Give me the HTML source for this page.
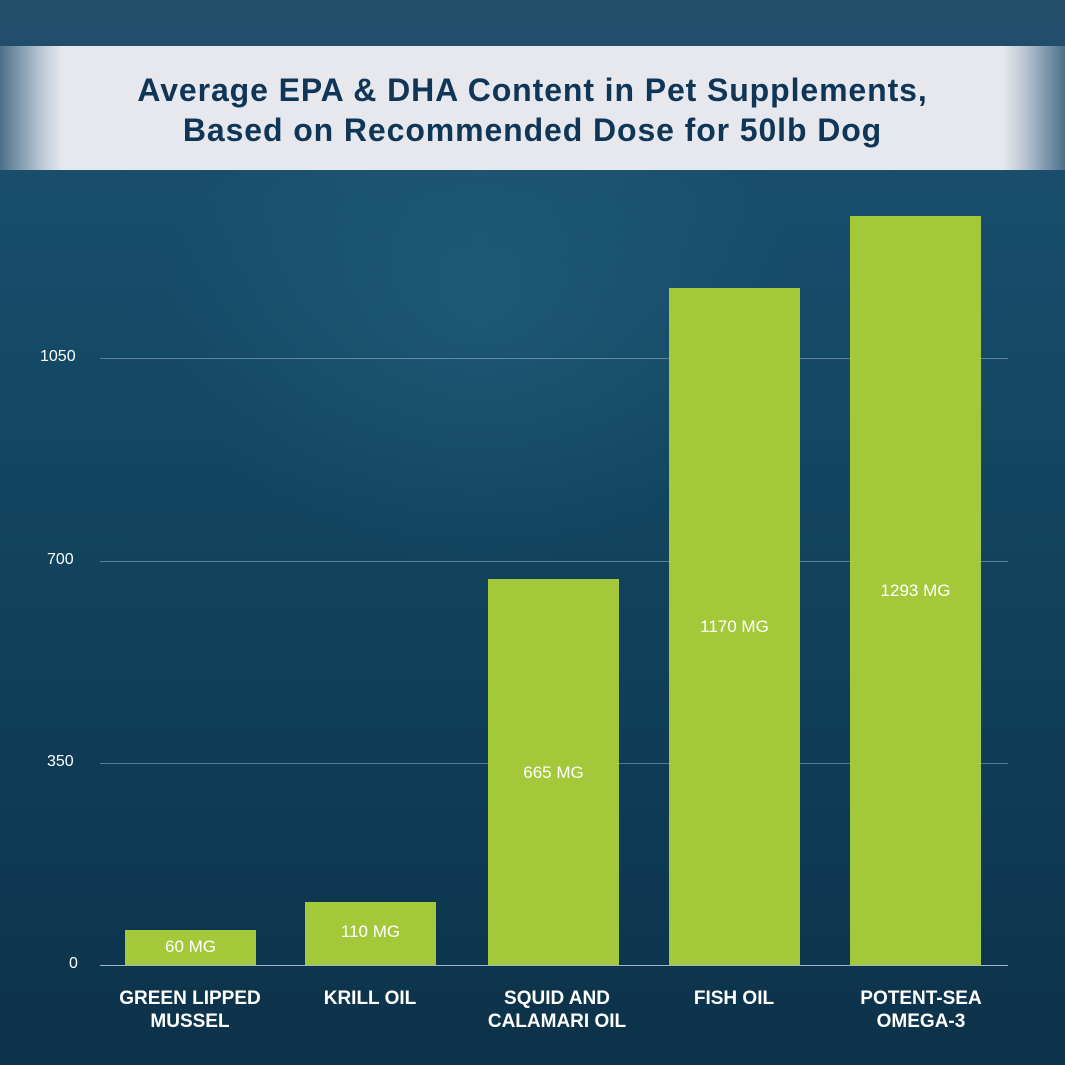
<!DOCTYPE html>
<html><head><style>
body{margin:0;width:1065px;height:1065px;overflow:hidden;font-family:"Liberation Sans",sans-serif;}
#bg{position:absolute;left:0;top:0;width:1065px;height:1065px;
background:radial-gradient(ellipse 450px 380px at 480px 300px,rgba(50,120,150,0.3),rgba(0,0,0,0) 70%),linear-gradient(#234e6a 0px,#174e6c 200px,#12455f 500px,#0e3b55 800px,#0d3249 1065px);}
#banner{position:absolute;left:0;top:46px;width:1065px;height:124px;
background:linear-gradient(90deg,#4d6f8b 0px,#b8c4d1 40px,#e6e8ee 62px,#e6e8ee 1003px,#b8c4d1 1025px,#4d6f8b 1065px);}
#title{position:absolute;left:0;top:70px;width:1065px;text-align:center;color:#0f3557;font-weight:bold;font-size:32px;line-height:40px;letter-spacing:0.9px;}
.grid{position:absolute;left:100px;width:908px;height:1px;background:rgba(160,190,210,0.5);}
.yl{position:absolute;left:40px;width:45px;text-align:left;color:#fff;font-size:16px;}
.bar{position:absolute;width:131px;background:#a3c93a;}
.bl{position:absolute;width:131px;text-align:center;color:#fff;font-size:17px;}
.xl{position:absolute;width:200px;text-align:center;color:#fff;font-weight:bold;font-size:19px;line-height:23px;top:987px;}
</style></head><body>
<div id="bg"></div>
<div id="banner"></div>
<div id="title">Average EPA &amp; DHA Content in Pet Supplements,<br>Based on Recommended Dose for 50lb Dog</div>
<div class="grid" style="top:358px"></div>
<div class="grid" style="top:561px"></div>
<div class="grid" style="top:763px"></div>
<div class="grid" style="top:965px;background:rgba(200,215,225,0.8)"></div>
<div class="yl" style="top:348px">1050</div>
<div class="yl" style="top:551px;left:47px">700</div>
<div class="yl" style="top:753px;left:47px">350</div>
<div class="yl" style="top:955px;left:69px">0</div>
<div class="bar" style="left:125px;top:930px;height:35px"></div>
<div class="bar" style="left:305px;top:902px;height:63px"></div>
<div class="bar" style="left:488px;top:579px;height:386px"></div>
<div class="bar" style="left:669px;top:288px;height:677px"></div>
<div class="bar" style="left:850px;top:216px;height:749px"></div>
<div class="bl" style="left:125px;top:937px">60 MG</div>
<div class="bl" style="left:305px;top:922px">110 MG</div>
<div class="bl" style="left:488px;top:763px">665 MG</div>
<div class="bl" style="left:669px;top:617px">1170 MG</div>
<div class="bl" style="left:850px;top:581px">1293 MG</div>
<div class="xl" style="left:90px">GREEN LIPPED<br>MUSSEL</div>
<div class="xl" style="left:270px">KRILL OIL</div>
<div class="xl" style="left:457px">SQUID AND<br>CALAMARI OIL</div>
<div class="xl" style="left:634px">FISH OIL</div>
<div class="xl" style="left:821px">POTENT-SEA<br>OMEGA-3</div>
</body></html>
